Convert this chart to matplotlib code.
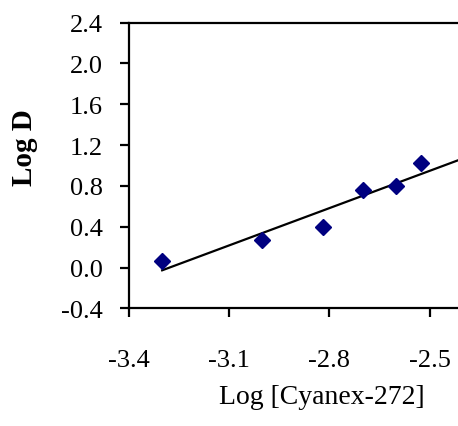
import numpy as np
import matplotlib.pyplot as plt

# distribution data: log of extractant concentration vs log of distribution ratio
log_cyanex = [-3.30, -3.00, -2.82, -2.70, -2.60, -2.525]
log_d = [0.066, 0.268, 0.40, 0.758, 0.797, 1.026]

x_ticks = [-3.4, -3.1, -2.8, -2.5]
x_max = -2.2
y_ticks = [-0.4, 0.0, 0.4, 0.8, 1.2, 1.6, 2.0, 2.4]

plt.rcParams['font.family'] = ['Liberation Serif', 'DejaVu Serif']

fig = plt.figure(figsize=(4.58, 4.27), dpi=100)
# plot area runs past the right edge of the figure
ax = fig.add_axes([128.7 / 458, 1 - 309.3 / 427, (530 - 128.7) / 458, (309.3 - 23.7) / 427])

# linear least-squares trend line, extended forward
slope, intercept = np.polyfit(log_cyanex, log_d, 1)
xfit = np.array([min(log_cyanex), x_max])
ax.plot(xfit, slope * xfit + intercept, color='black', lw=1.6, zorder=2)

ax.plot(log_cyanex, log_d, 'D', color='#000080', ms=8, mec='#000080', zorder=3)

ax.set_xlim(x_ticks[0], x_max)
ax.set_ylim(y_ticks[0], y_ticks[-1])
ax.set_xticks(x_ticks)
ax.set_yticks(y_ticks)
ax.set_xticklabels(['%.1f' % v for v in x_ticks])
ax.set_yticklabels(['%.1f' % v for v in y_ticks])

for s in ax.spines.values():
    s.set_linewidth(1.6)
ax.tick_params(axis='x', direction='out', length=6.5, width=1.6, pad=23, labelsize=19)
ax.tick_params(axis='y', direction='out', length=6.5, width=1.6, pad=12, labelsize=19)

ax.set_xlabel('Log [Cyanex-272]', fontsize=20)
ax.set_ylabel('Log D', fontsize=21, fontweight='bold')
ax.xaxis.set_label_coords((322 - 128.7) / (530 - 128.7), -(398 - 309.3) / (309.3 - 23.7))
ax.yaxis.set_label_coords(-(128.7 - 25) / (530 - 128.7), (309.3 - 148) / (309.3 - 23.7))
ax.xaxis.label.set_va('center')
ax.yaxis.label.set_va('center')

fig.savefig('out.png', dpi=100)
